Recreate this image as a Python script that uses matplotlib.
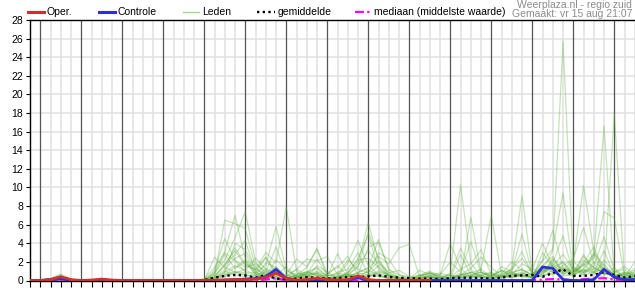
import numpy as np
import matplotlib
matplotlib.use("Agg")
import matplotlib.pyplot as plt
from matplotlib.lines import Line2D

plt.rcParams['font.family'] = ['Liberation Sans', 'DejaVu Sans']

# --- Daten: 6-uurlijkse neerslag (mm), start vr 15 aug 18:00 ---
day_labels = ["Za 16", "Zo 17", "Ma 18", "Di 19", "Wo 20", "Do 21", "Vr 22",
              "Za 23", "Zo 24", "Ma 25", "Di 26", "Wo 27", "Do 28", "Vr 29"]

oper = [0, 0,0.1,0.4,0.1, 0,0.05,0.15,0.05, 0,0,0,0, 0,0,0,0, 0,0,0.05,0.1,
        0.1,0.15,0.3,0.8, 0.2,0.05,0.1,0.25, 0.1,0.05,0.1,0.5, 0.1,0,0,0, 0,0,0]

controle = [0, 0,0.1,0.2,0, 0,0,0.05,0, 0,0,0,0, 0,0,0,0, 0,0,0.05,0.1,
            0.15,0.2,0.4,1.2, 0.2,0,0.05,0.1, 0.05,0,0.05,0.3, 0,0,0,0, 0,0,0,0,
            0,0,0,0, 0,0,0,0, 0,1.45,1.3,0.1, 0,0,0.1,1.2, 0.35,0.1,0.1]

gemiddelde = [0, 0,0.1,0.3,0.05, 0,0,0.05,0, 0,0,0,0, 0,0,0,0, 0.05,0.3,0.5,0.6,
              0.55,0.3,0.6,0.2, 0.15,0.2,0.35,0.3, 0.2,0.25,0.35,0.35, 0.45,0.55,0.4,0.3,
              0.25,0.2,0.2,0.15, 0.25,0.3,0.3,0.25, 0.2,0.3,0.5,0.55, 0.6,0.4,0.8,1.2,
              0.5,0.5,0.6,0.9, 0.6,0.3,0.5]

mediaan = [0, 0,0,0.05,0, 0,0,0,0, 0,0,0,0, 0,0,0,0, 0,0,0,0, 0,0,0.1,0.25,
           0,0,0,0, 0,0,0,0, 0,0,0,0, 0,0,0,0, 0,0,0,0, 0,0,0,0, 0,0.1,0.15,0.1,
           0,0.15,0.2,0.25, 0.1,0,0]

leden = [
    [0, 0,0.2,0.7,0.1, 0,0,0,0, 0,0,0,0, 0,0,0,0, 0,0.6,6.5,6.1, 5.6,1.4,0.5,0.2, 0,0.3,0.6,0.2, 0,0.4,0.8,1.9, 6.2,2.1,0.4,0.1, 0,0,0.2,0.1, 0,0.3,0.5,0.2, 0,0.4,0.9,1.2, 0.6,1.1,3.2,25.7, 1.4,0.6,0.9,0.3, 0.2,0.1,0.4],
    [0, 0,0.1,0.5,0.1, 0,0,0.1,0, 0,0,0,0, 0,0,0,0, 0,0.9,3.1,7.0, 2.4,0.8,0.3,0.1, 0,0.6,1.4,3.5, 0.4,0.2,0.5,0.3, 1.1,0.6,0.2,0, 0,0.3,0.5,0.2, 0.8,10.3,1.9,0.4, 0,0.2,0.6,0.9, 0.3,0.5,1.8,1.1, 0.6,2.2,1.4,0.8, 17.9,0.3,0.1],
    [0, 0,0.2,0.6,0, 0,0,0,0, 0,0,0,0, 0,0,0,0, 0.1,0.8,2.2,4.6, 7.4,2.0,0.6,0.2, 0.1,0.4,0.9,0.6, 0.3,0.2,0.8,2.4, 4.9,1.2,0.5,0.2, 0,0.1,0.3,0.1, 0,0.6,0.9,0.4, 0.2,0.5,1.4,9.1, 0.8,0.4,1.1,2.0, 0.5,1.3,2.6,16.6, 0.4,0.2,0.6],
    [0, 0,0.1,0.4,0.1, 0,0,0,0, 0,0,0,0, 0,0,0,0, 0,0.4,1.8,3.2, 1.6,1.2,3.0,1.9, 7.9,1.0,0.4,0.2, 0.1,0.9,1.2,3.0, 0.6,0.4,0.2,0.1, 0,0,0.1,0, 0.3,0.8,0.4,1.2, 7.0,0.6,0.3,0.5, 0.4,1.0,1.6,0.8, 1.9,10.2,3.1,0.9, 0.4,0.6,0.3],
    [0, 0,0.2,0.5,0, 0,0,0,0, 0,0,0,0, 0,0,0,0, 0,0.3,1.2,2.4, 2.9,0.8,1.6,5.8, 1.1,0.5,0.3,0.6, 0.2,0.3,0.6,1.4, 5.2,2.4,0.6,0.2, 0,0.2,0.4,0.1, 0.2,0.4,6.8,0.9, 0.3,0.4,0.8,1.2, 0.5,2.1,3.4,9.4, 0.8,1.6,2.4,7.4, 6.7,0.4,0.2],
    [0, 0,0,0.3,0, 0,0,0,0, 0,0,0,0, 0,0,0,0, 0,1.1,4.5,2.2, 1.4,1.8,0.9,3.6, 0.6,0.3,0.8,1.3, 0.4,2.9,0.7,0.5, 0.4,0.6,0.3,0, 0,0,0.2,0.1, 0.1,0.3,0.2,0.5, 0.8,0.4,1.0,5.0, 0.6,1.3,0.9,1.6, 2.3,5.7,1.8,0.7, 1.0,0.3,0.4],
    [0, 0,0.1,0.3,0, 0,0,0.2,0, 0,0,0,0, 0,0,0,0, 0,0.5,1.6,3.5, 1.8,1.1,2.5,0.9, 0.3,0.6,0.4,0.8, 0.2,0.3,0.4,0.9, 1.3,2.6,1.8,3.5, 3.9,0.4,0.9,0.3, 0.4,1.2,1.8,3.3, 0.6,0.3,0.5,0.8, 0.4,0.9,1.4,0.7, 1.2,0.8,3.0,1.6, 0.5,0.9,0.6],
    [0, 0,0,0.2,0, 0,0,0,0, 0,0,0,0, 0,0,0,0, 0,0.7,2.8,1.3, 2.0,0.6,0.9,0.5, 1.5,0.4,0.7,2.3, 0.6,0.4,1.9,4.3, 1.6,0.6,0.2,0, 0,0.5,0.8,0.4, 0.3,2.8,0.6,0.4, 0.2,0.3,1.2,3.1, 0.6,2.2,5.4,1.3, 0.9,1.8,0.8,1.4, 0.7,0.3,1.1],
    [0, 0,0,0.1,0, 0,0,0,0, 0,0,0,0, 0,0,0,0, 0,0.2,0.9,1.6, 1.1,2.4,1.2,0.4, 0.6,2.3,1.5,3.3, 0.8,1.4,2.6,0.6, 3.6,4.1,1.2,0.3, 0,0.6,1.0,0.5, 4.0,1.3,0.4,0.6, 0.9,0.4,0.6,1.8, 1.2,4.0,1.5,0.6, 1.4,0.9,1.6,4.7, 1.1,0.4,0.8],
    [0, 0,0,0.2,0, 0,0,0,0, 0,0,0,0, 0,0,0,0, 0,0.3,0.6,1.0, 0.8,0.5,1.9,1.4, 0.5,1.2,2.3,2.1, 2.6,0.6,0.4,0.8, 0.6,1.0,0.7,0.4, 0.2,1.1,0.6,0.8, 0.5,0.3,0.6,0.9, 0.4,1.1,0.8,0.6, 0.3,0.7,2.4,1.1, 0.8,2.6,1.4,0.8, 0.6,0.4,2.0],
    [0, 0,0,0.1,0, 0,0,0,0, 0,0,0,0, 0,0,0,0, 0,2.5,1.4,0.9, 0.6,0.3,0.6,1.0, 0.4,0.8,0.5,0.3, 0.2,0.5,0.6,1.6, 3.2,1.8,0.9,0.2, 0,0.2,0.6,0.3, 0.6,3.5,1.2,0.3, 0.5,1.0,0.6,0.4, 0.2,3.0,1.4,2.0, 0.6,1.1,0.7,2.2, 0.9,1.5,0.6],
    [0, 0,0.1,0.4,0, 0,0,0,0, 0,0,0,0, 0,0,0,0, 0,0.2,0.8,4.0, 3.3,1.2,0.6,1.5, 0.3,0.2,0.4,0.9, 0.3,0.2,0.9,2.2, 2.4,1.4,0.5,0.3, 0.2,0.3,0.5,0.6, 0.2,0.6,1.3,2.5, 1.4,0.5,0.3,0.7, 0.3,0.8,1.6,2.8, 1.2,0.6,2.0,1.2, 0.3,0.7,0.9],
    [0, 0,0,0.2,0, 0,0,0,0, 0,0,0,0, 0,0,0,0, 0.2,1.4,3.0,2.1, 0.9,0.8,2.5,0.6, 0.4,1.2,0.6,1.0, 0.5,0.6,2.2,1.2, 0.8,3.0,2.3,0.6, 0.3,0.2,0.4,0.2, 0.3,0.6,0.8,1.2, 0.4,0.7,2.0,1.1, 0.6,1.6,2.6,0.8, 0.5,1.9,3.6,1.0, 0.4,0.8,0.5],
    [0, 0,0,0.1,0, 0,0,0,0, 0,0,0,0, 0,0,0,0, 0,0.4,1.6,2.8, 4.3,0.9,0.5,2.2, 1.2,0.3,0.8,0.6, 0.2,0.4,0.5,0.8, 1.4,4.4,1.2,0.6, 0.4,0.5,0.8,0.3, 0.2,0.5,0.3,0.6, 0.3,1.5,0.9,0.4, 0.8,1.2,0.6,1.4, 0.9,1.7,2.8,0.6, 1.4,0.3,0.4],
    [0, 0,0,0.1,0, 0,0,0,0, 0,0,0,0, 0,0,0,0, 0,0.1,0.5,0.9, 0.6,0.4,1.3,0.8, 0.3,0.5,1.0,0.4, 0.6,1.6,0.5,0.3, 0.4,0.9,0.6,0.3, 0.1,0.4,0.8,0.6, 2.0,0.9,4.2,0.8, 0.5,1.1,0.4,0.7, 1.3,0.6,2.2,0.9, 1.5,0.8,1.2,0.6, 0.9,1.2,0.4],
    [0, 0,0,0.2,0, 0,0,0,0, 0,0,0,0, 0,0,0,0, 0,0.2,0.6,1.4, 2.2,0.6,0.4,0.8, 0.2,0.4,0.3,1.6, 0.9,0.3,0.4,0.6, 0.9,2.1,0.8,1.1, 0.4,0.2,0.3,0.4, 0.6,0.4,0.9,0.5, 0.3,0.6,1.2,2.4, 0.8,1.0,1.9,4.8, 0.7,2.8,0.9,3.2, 0.6,0.5,1.3],
    [0, 0,0,0,0, 0,0,0,0, 0,0,0,0, 0,0,0,0, 0,0.1,0.4,0.8, 1.2,0.5,0.8,0.4, 0.1,0.3,0.6,0.8, 0.3,0.2,0.6,0.4, 0.5,0.8,0.4,0.2, 0,0.3,0.4,0.2, 0.3,0.6,0.5,0.9, 0.6,0.4,0.7,0.5, 0.4,1.6,0.9,1.2, 2.1,0.9,1.4,0.8, 0.5,0.7,0.3],
    [0, 0,0,0.1,0, 0,0,0,0, 0,0,0,0, 0,0,0,0, 0,0.3,1.0,0.6, 0.4,0.2,1.1,0.4, 0.2,0.6,0.9,1.4, 0.5,0.8,0.6,0.4, 0.6,1.6,0.5,0.3, 0.2,0.6,0.4,0.3, 0.1,0.2,0.4,0.3, 0.2,0.5,0.4,0.6, 0.3,0.5,0.8,0.5, 0.6,1.2,0.9,1.8, 0.4,0.9,0.5],
]

# tijd in uren vanaf vr 15 aug 18:00
n = len(controle)
uren = np.arange(n) * 6

rood = '#d42f2f'
blauw = '#2f2fd6'
groen = '#5cae3a'
magenta = '#ff00ff'

W, H = 635, 300
fig = plt.figure(figsize=(W / 100, H / 100), dpi=100)
ax = fig.add_axes([30 / W, 19.5 / H, 604.8 / W, 260.5 / H])

# raster
for y in range(2, 29, 2):
    ax.axhline(y, color='#e0e0e0', lw=1.1, zorder=0)
for h in uren:
    if h % 24 == 6:   # middernacht
        ax.axvline(h, color='#555555', lw=0.9, zorder=1)
    else:
        ax.axvline(h, color='#e0e0e0', lw=1.1, zorder=0)

for lid in leden:
    ax.plot(uren, lid, color=groen, lw=0.9, alpha=0.35, zorder=2)
ax.plot(uren, mediaan, color=magenta, lw=1.6, ls=(0, (4, 1.5, 1, 1.5)), zorder=3)
ax.plot(uren, gemiddelde, color='black', lw=1.7, ls=(0, (1, 1.4)), zorder=4)
ax.plot(uren, controle, color=blauw, lw=2.0, zorder=5)
ax.plot(uren[:len(oper)], oper, color=rood, lw=2.0, zorder=6)

ax.set_xlim(0, uren[-1])
ax.set_ylim(0, 28)
ax.set_yticks(range(0, 29, 2))
ax.set_xticks(uren)
ax.set_xticklabels([])
ax.set_xticks([6 + 12 + 24 * d for d in range(len(day_labels))], minor=True)
ax.set_xticklabels(day_labels, minor=True)
ax.tick_params(axis='x', which='major', length=4, width=0.8, direction='out')
ax.tick_params(axis='x', which='minor', length=0, pad=4, labelsize=7.5)
ax.tick_params(axis='y', length=3, width=0.8, pad=2, labelsize=7.5)
for s in ['left', 'bottom', 'top']:
    ax.spines[s].set_linewidth(1.0)
ax.spines['right'].set_visible(False)

# legenda bovenaan
yl = 1 - 12 / H
def legenda(x0, x1, tekst, **kw):
    fig.add_artist(Line2D([x0 / W, x1 / W], [yl, yl], transform=fig.transFigure, **kw))
    fig.text((x1 + 3) / W, yl, tekst, fontsize=7.5, va='center', ha='left')

legenda(27.5, 43.5, "Oper.", color=rood, lw=2.2)
legenda(99, 115, "Controle", color=blauw, lw=2.2)
legenda(183, 199, "Leden", color='#a9d494', lw=1.0)
legenda(257, 275, "gemiddelde", color='black', lw=1.7, ls=(0, (1, 1.4)))
legenda(355, 371, "mediaan (middelste waarde)", color=magenta, lw=1.6, ls=(0, (4, 1.5, 1, 1.5)))

fig.text(632 / W, 1 - 5 / H, "Weerplaza.nl - regio zuid", fontsize=7.5, color='#8c8c8c',
         ha='right', va='center')
fig.text(632 / W, 1 - 14 / H, "Gemaakt: vr 15 aug 21:07", fontsize=7.5, color='#8c8c8c',
         ha='right', va='center')

fig.savefig("out.png", dpi=100)
